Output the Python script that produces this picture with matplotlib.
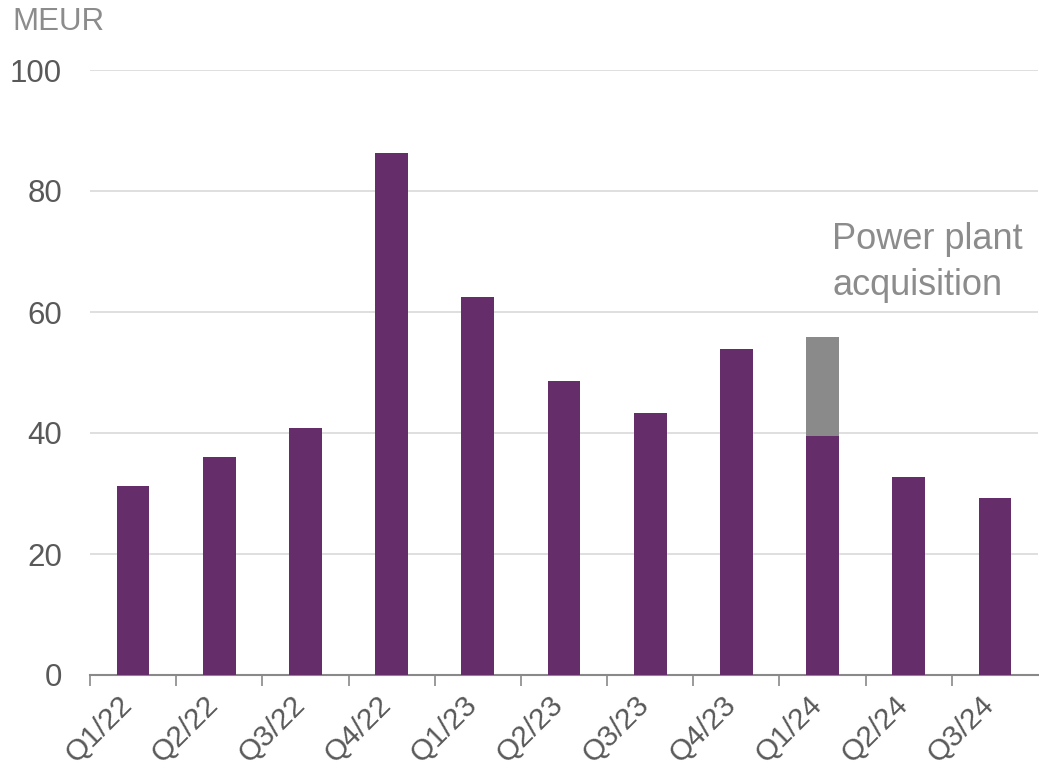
import numpy as np
import matplotlib.pyplot as plt
import matplotlib.transforms as mtransforms

plt.rcParams['font.family'] = ['Liberation Sans', 'DejaVu Sans']

# quarterly values, MEUR
quarters = ['Q1/22', 'Q2/22', 'Q3/22', 'Q4/22', 'Q1/23', 'Q2/23',
            'Q3/23', 'Q4/23', 'Q1/24', 'Q2/24', 'Q3/24']
base = [31.2, 36.0, 40.8, 86.2, 62.5, 48.6, 43.3, 53.9, 39.5, 32.7, 29.2]
acquisition = [0, 0, 0, 0, 0, 0, 0, 0, 16.3, 0, 0]

purple = '#662d6b'
grey = '#8a8a8a'

fig = plt.figure(figsize=(10.39, 7.71), dpi=100)
ax = fig.add_axes([90 / 1039, 96 / 771, 948 / 1039, 605 / 771])

x = np.arange(len(quarters))
ax.bar(x, base, width=0.38, color=purple, zorder=3)
ax.bar(x, acquisition, width=0.38, bottom=base, color=grey, zorder=3)

ax.set_xlim(-0.5, 10.5)
ax.set_ylim(0, 100)
ax.set_yticks([0, 20, 40, 60, 80, 100])
ax.yaxis.grid(True, color='#d9d9d9', linewidth=1.2, zorder=0)
ax.tick_params(axis='y', length=0, pad=20, labelsize=22.5, labelcolor='#595959')

# labels under the bars, tick marks between categories
ax.set_xticks(x)
ax.set_xticklabels(quarters, rotation=45, ha='right', va='center',
                   rotation_mode='anchor')
ax.tick_params(axis='x', which='major', length=0, pad=18, labelsize=21.5,
               labelcolor='#595959')
shift = mtransforms.ScaledTranslation(-5 / 100, 0, fig.dpi_scale_trans)
for lab in ax.get_xticklabels():
    lab.set_transform(lab.get_transform() + shift)
ax.set_xticks(np.arange(-0.5, 10, 1), minor=True)
ax.tick_params(axis='x', which='minor', length=8, width=1.2, color='#898989')

for s in ['top', 'right', 'left']:
    ax.spines[s].set_visible(False)
ax.spines['bottom'].set_color('#898989')
ax.spines['bottom'].set_linewidth(1.5)

fig.text(12 / 1039, 1 - 22 / 771, 'MEUR', fontsize=22.5, color='#8c8c8c',
         va='center', ha='left')
ax.text(8.11, 74.8, 'Power plant\nacquisition', fontsize=26, color='#8c8c8c',
        ha='left', va='top', linespacing=1.4)

fig.savefig('out.png', dpi=100)
